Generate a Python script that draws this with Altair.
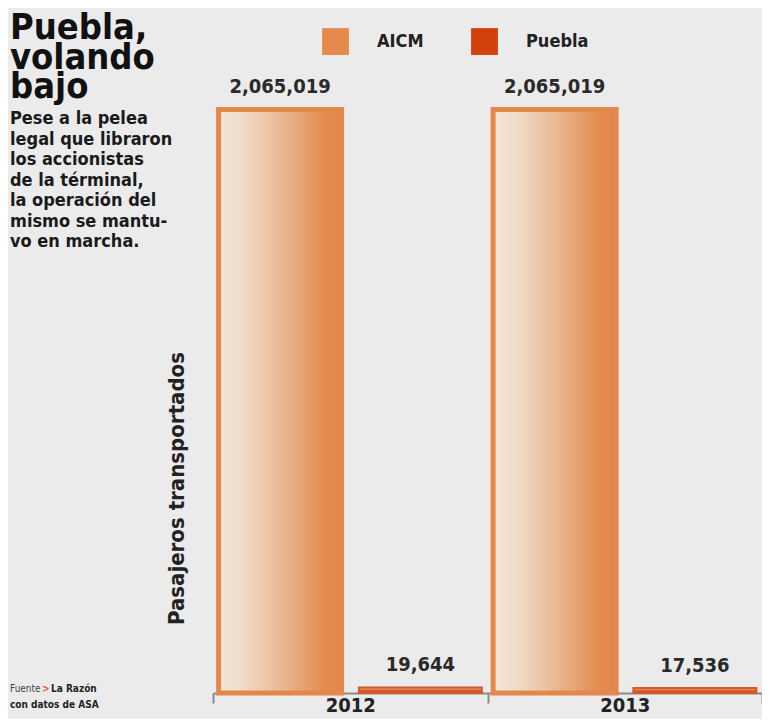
import altair as alt
import pandas as pd

years = ["2012", "2012", "2013", "2013"]
series = ["AICM", "Puebla", "AICM", "Puebla"]
values = [2065019, 19644, 2065019, 17536]
labels = ["2,065,019", "19,644", "2,065,019", "17,536"]

title_lines = ["Puebla,", "volando", "bajo"]
sub_lines = ["Pese a la pelea", "legal que libraron", "los accionistas", "de la términal,",
             "la operación del", "mismo se mantu-", "vo en marcha."]
source_word = "Fuente"
source_arrow = ">"
source_name = "La Razón"
source_line2 = "con datos de ASA"
y_title = "Pasajeros transportados"

df = pd.DataFrame({"year": years, "series": series, "value": values, "label": labels})

FONT = "DejaVu Sans Condensed, DejaVu Sans, sans-serif"
ORANGE = "#e58a4c"
RED = "#d2410e"
TXT = "#222222"

x = alt.X("year:N",
          scale=alt.Scale(paddingInner=0, paddingOuter=0),
          axis=alt.Axis(title=None, labelFont=FONT, labelFontSize=20, labelFontWeight="bold",
                        labelColor=TXT, labelAngle=0, labelPadding=-8,
                        domainColor="#8a8a8a", domainWidth=2, tickBand="extent",
                        tickColor="#8a8a8a", tickWidth=2, tickSize=10))
xo = alt.XOffset("series:N", scale=alt.Scale(paddingInner=0.123, paddingOuter=0.04))
y = alt.Y("value:Q", scale=alt.Scale(domain=[0, 2240000]),
          axis=alt.Axis(title=y_title, labels=False, ticks=False, domain=False, grid=False,
                        titleFont=FONT, titleFontSize=22, titleFontWeight="bold", titleColor=TXT,
                        titleX=-37, titleY=428, titleAngle=270, titleAlign="center",
                        titleBaseline="middle"))

base = alt.Chart(df)

legend_bars = base.mark_bar().encode(
    x=x, xOffset=xo, y=y,
    color=alt.Color("series:N",
                    scale=alt.Scale(domain=["AICM", "Puebla"], range=[ORANGE, RED]),
                    legend=alt.Legend(title=None, orient="none", legendX=109, legendY=-32,
                                      direction="horizontal", symbolType="square",
                                      symbolSize=720, symbolStrokeWidth=0, symbolOpacity=1,
                                      labelFont=FONT, labelFontSize=18, labelFontWeight="bold",
                                      labelColor=TXT, labelOffset=28, columnPadding=47)))

aicm_grad = alt.LinearGradient(gradient="linear", x1=0, x2=1, y1=0, y2=0, stops=[
    alt.GradientStop(color="#f3e6dc", offset=0),
    alt.GradientStop(color="#f0dbc9", offset=0.2),
    alt.GradientStop(color="#e9b48d", offset=0.55),
    alt.GradientStop(color="#e38c52", offset=0.85),
    alt.GradientStop(color="#e0874b", offset=1)])
puebla_grad = alt.LinearGradient(gradient="linear", x1=0, x2=0, y1=0, y2=1, stops=[
    alt.GradientStop(color="#f2c2a4", offset=0),
    alt.GradientStop(color="#d9602f", offset=0.5),
    alt.GradientStop(color="#c8461b", offset=1)])

aicm_bars = base.transform_filter(alt.datum.series == "AICM").mark_bar(
    fill=aicm_grad, stroke="#e4874a", strokeWidth=5).encode(x=x, xOffset=xo, y=y)
puebla_bars = base.transform_filter(alt.datum.series == "Puebla").mark_bar(
    fill=puebla_grad, stroke="#d4582a", strokeWidth=2).encode(x=x, xOffset=xo, y=y)

value_text = base.mark_text(dy=-12, baseline="bottom", font=FONT, fontSize=20,
                            fontWeight="bold", color="#2a2a2a").encode(
    x=x, xOffset=xo, y=y, text="label:N")

one = alt.Data(values=[{}])


def note(text, px, py, size, weight, color, line_height=None):
    kw = dict(text=text, align="left", baseline="alphabetic", font=FONT, fontSize=size,
              fontWeight=weight, color=color)
    if line_height is not None:
        kw["lineHeight"] = line_height
    return alt.Chart(one).mark_text(**kw).encode(x=alt.value(px), y=alt.value(py))


title_text = note(title_lines, -203, -21, 36, "bold", "#111111", 29.5)
sub_text = note(sub_lines, -203, 64, 18, "bold", "#1a1a1a", 20.5)
src1 = note(source_word, -203, 632, 10, "normal", "#444444")
src2 = note(source_arrow, -171, 632, 10, "bold", "#e0602a")
src3 = note(source_name, -162, 632, 10, "bold", "#222222")
src4 = note(source_line2, -203, 648, 10, "bold", "#222222")

chart = alt.layer(legend_bars, aicm_bars, puebla_bars, value_text,
                  title_text, sub_text, src1, src2, src3, src4).properties(
    width=549, height=633,
    autosize=alt.AutoSizeParams(type="none"),
    padding={"left": 205, "top": 52, "right": 0, "bottom": 26},
    background="#ebebeb",
).configure_view(stroke=None)

chart.save("out.html", embed_options={"renderer": "svg", "actions": False})
